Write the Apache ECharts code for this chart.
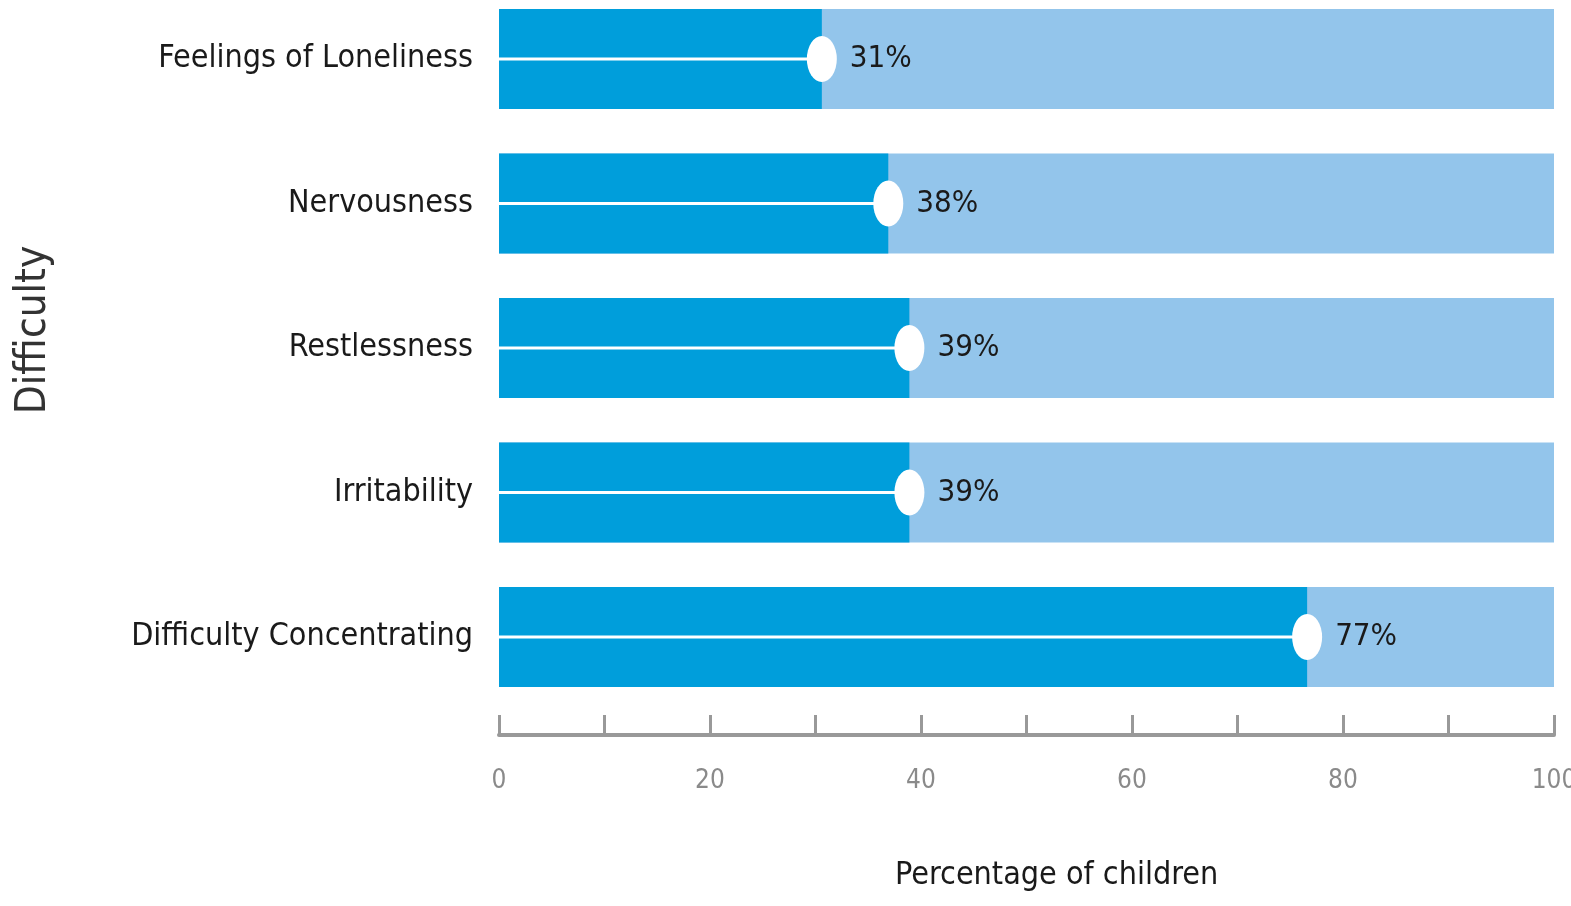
<!DOCTYPE html>
<html><head><meta charset="utf-8">
<script src="https://cdn.jsdelivr.net/npm/echarts@6/dist/echarts.min.js"></script>
<style>html,body{margin:0;padding:0;background:#fff}#c{width:1571px;height:906px}</style>
</head><body><div id="c"></div>
<script>
var categories = ['Feelings of Loneliness', 'Nervousness', 'Restlessness', 'Irritability', 'Difficulty Concentrating'];
var values = [30.6, 36.9, 38.9, 38.9, 76.6];
var valueLabels = ['31%', '38%', '39%', '39%', '77%'];
var xTicks = [0, 20, 40, 60, 80, 100];

var FONT = "'Liberation Sans Narrow', 'Arial Narrow', 'DejaVu Sans Condensed', sans-serif";
var chart = echarts.init(document.getElementById('c'));
chart.setOption({
  animation: false,
  grid: { left: 499, right: 17, top: 59, height: 578, outerBoundsMode: 'none', containLabel: false },
  xAxis: {
    type: 'value', min: 0, max: 100, interval: 10, offset: 98, z: 10,
    axisLine: { show: true, lineStyle: { color: '#999', width: 4 } },
    axisTick: { show: true, inside: true, length: 20, lineStyle: { color: '#999', width: 3 } },
    splitLine: { show: false },
    axisLabel: {
      margin: 33, fontFamily: FONT, fontSize: 26, color: '#8a8a8a',
      formatter: function (v) { return xTicks.indexOf(v) >= 0 ? String(v) : ''; }
    }
  },
  yAxis: {
    type: 'category', data: categories, inverse: true, boundaryGap: false,
    axisLine: { show: false }, axisTick: { show: false },
    axisLabel: { margin: 26, fontFamily: FONT, fontSize: 32, color: '#1a1a1a' }
  },
  series: [
    {
      type: 'bar', data: values, barWidth: 100,
      itemStyle: { color: '#009EDB' },
      showBackground: true, backgroundStyle: { color: '#93C5EB' }
    },
    {
      type: 'custom', z: 3,
      data: values.map(function (v, i) { return [v, i]; }),
      renderItem: function (params, api) {
        var s = api.coord([0, api.value(1)]);
        var e = api.coord([api.value(0), api.value(1)]);
        return { type: 'rect', shape: { x: s[0], y: s[1] - 1.5, width: e[0] - s[0], height: 3 }, style: { fill: '#ffffff' } };
      }
    },
    {
      type: 'scatter', data: values.map(function (v, i) { return [v, categories[i]]; }),
      symbol: 'circle', symbolSize: [30, 46], z: 4,
      itemStyle: { color: '#ffffff', opacity: 1 },
      label: {
        show: true, position: 'right', distance: 13,
        fontFamily: FONT, fontSize: 31, color: '#1a1a1a',
        formatter: function (p) { return valueLabels[p.dataIndex]; }
      }
    }
  ],
  graphic: [
    { type: 'text', left: 895, top: 860, style: { text: 'Percentage of children', font: '32px ' + FONT, fill: '#1a1a1a' } },
    { type: 'text', x: 34, y: 330, rotation: Math.PI / 2,
      style: { text: 'Difficulty', font: '42px ' + FONT, fill: '#333', align: 'center', verticalAlign: 'middle' } }
  ]
});
</script></body></html>
